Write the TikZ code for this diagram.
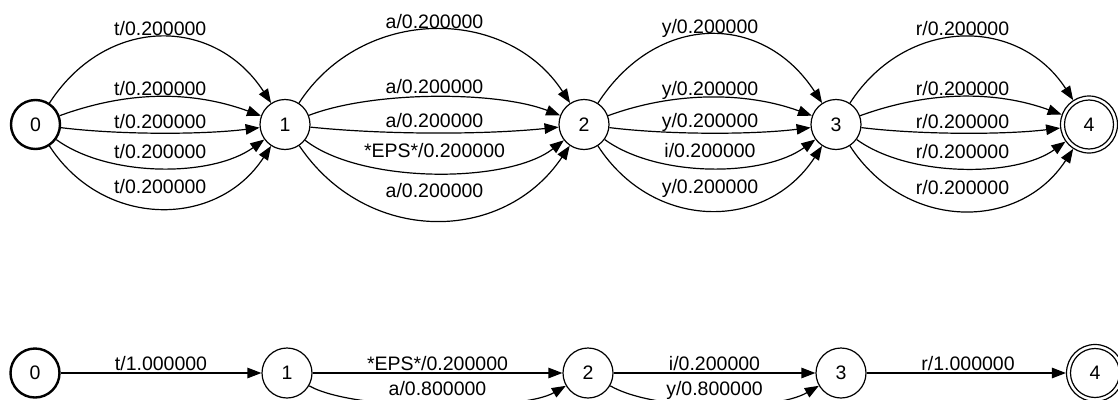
\documentclass[tikz,border=0pt]{standalone}
\usepackage{fontspec}
\setmainfont{Liberation Sans}
\usetikzlibrary{arrows.meta}
\newcommand\lbfont{\fontsize{19.5}{22}\selectfont}
\tikzset{
  st/.style={circle, draw, line width=1.2pt, minimum size=50pt, inner sep=0pt, font=\lbfont},
  init/.style={st, line width=2.4pt, minimum size=49pt},
  fin/.style={st, minimum size=57pt},
  edge/.style={line width=1.2pt, -{Triangle[length=14pt,width=10.5pt]}},
  lbl/.style={anchor=base, inner sep=0pt, font=\lbfont}
}
\begin{document}
\begin{tikzpicture}[x=1pt,y=1pt]
\useasboundingbox (0,0) rectangle (1118,-399);
\clip (0,0) rectangle (1118,-399);
% ---------- top automaton ----------
\node[init] (n0) at (35.5,-124.5) {0};
\node[st]   (n1) at (285,-124.5) {1};
\node[st]   (n2) at (584,-124.5) {2};
\node[st]   (n3) at (836,-124.5) {3};
\node[fin]  (n4) at (1089,-124.5) {4};
\draw[line width=1.2pt] (n4.center) circle[radius=24.5pt];
% 0 -> 1
\draw[edge] (n0) .. controls +(70.8,109) and +(-70.8,109) .. (n1);
\draw[edge] (n0) .. controls +(93,33.9) and +(-93,33.9) .. (n1);
\draw[edge] (n0) .. controls +(83,-10.3) and +(-83,-10.3) .. (n1);
\draw[edge] (n0) .. controls +(73,-53) and +(-73,-53) .. (n1);
\draw[edge] (n0) .. controls +(67.8,-104.4) and +(-67.8,-104.4) .. (n1);
\node[lbl] (a1) at (160.25,-35) {t/0.200000};
\node[lbl] (a2) at (160.25,-95) {t/0.200000};
\node[lbl] (a3) at (160.25,-128.3) {t/0.200000};
\node[lbl] (a4) at (160.25,-158.3) {t/0.200000};
\node[lbl] (a5) at (160.25,-193.3) {t/0.200000};
% 1 -> 2
\draw[edge] (n1) .. controls +(77.3,119) and +(-77.3,119) .. (n2);
\draw[edge] (n1) .. controls +(87.8,33.7) and +(-87.8,33.7) .. (n2);
\draw[edge] (n1) .. controls +(100,-10.3) and +(-100,-10.3) .. (n2);
\draw[edge] (n1) .. controls +(76,-59.5) and +(-76,-59.5) .. (n2);
\draw[edge] (n1) .. controls +(81,-120.4) and +(-81,-120.4) .. (n2);
\node[lbl] (b1) at (434.5,-28.3) {a/0.200000};
\node[lbl] (b2) at (434.5,-93.3) {a/0.200000};
\node[lbl] (b3) at (434.5,-127.7) {a/0.200000};
\node[lbl] (b4) at (434.5,-157.3) {*EPS*/0.200000};
\node[lbl] (b5) at (434.5,-197.3) {a/0.200000};
% 2 -> 3
\draw[edge] (n2) .. controls +(73,112.4) and +(-73,112.4) .. (n3);
\draw[edge] (n2) .. controls +(90,33) and +(-90,33) .. (n3);
\draw[edge] (n2) .. controls +(84,-10.3) and +(-84,-10.3) .. (n3);
\draw[edge] (n2) .. controls +(73,-53) and +(-73,-53) .. (n3);
\draw[edge] (n2) .. controls +(69.5,-107) and +(-69.5,-107) .. (n3);
\node[lbl] (c1) at (710,-33.3) {y/0.200000};
\node[lbl] (c2) at (710,-95) {y/0.200000};
\node[lbl] (c3) at (710,-127.7) {y/0.200000};
\node[lbl] (c4) at (710,-157.3) {i/0.200000};
\node[lbl] (c5) at (710,-193.3) {y/0.200000};
% 3 -> 4
\draw[edge] (n3) .. controls +(70.4,108.4) and +(-70.4,108.4) .. (n4);
\draw[edge] (n3) .. controls +(93,33.9) and +(-93,33.9) .. (n4);
\draw[edge] (n3) .. controls +(84,-10.3) and +(-84,-10.3) .. (n4);
\draw[edge] (n3) .. controls +(73,-53) and +(-73,-53) .. (n4);
\draw[edge] (n3) .. controls +(69.5,-107) and +(-69.5,-107) .. (n4);
\node[lbl] (d1) at (962.5,-35) {r/0.200000};
\node[lbl] (d2) at (962.5,-95.5) {r/0.200000};
\node[lbl] (d3) at (962.5,-128.5) {r/0.200000};
\node[lbl] (d4) at (962.5,-158.5) {r/0.200000};
\node[lbl] (d5) at (962.5,-194) {r/0.200000};
% ---------- bottom automaton ----------
\node[init] (m0) at (35,-373) {0};
\node[st]   (m1) at (287,-373) {1};
\node[st]   (m2) at (588,-373) {2};
\node[st]   (m3) at (841,-373) {3};
\node[fin]  (m4) at (1095,-373) {4};
\draw[line width=1.2pt] (m4.center) circle[radius=24.5pt];
\draw[edge] (m0) -- (m1);
\draw[edge] (m1) -- (m2);
\draw[edge] (m1) .. controls +(66.7,-38.5) and +(-66.7,-38.5) .. (m2);
\draw[edge] (m2) -- (m3);
\draw[edge] (m2) .. controls +(66.7,-38.5) and +(-66.7,-38.5) .. (m3);
\draw[edge] (m3) -- (m4);
\node[lbl] (e1) at (161,-370.5) {t/1.000000};
\node[lbl] (e2) at (437.5,-370.5) {*EPS*/0.200000};
\node[lbl] (e3) at (437.5,-395) {a/0.800000};
\node[lbl] (e4) at (714.5,-370.5) {i/0.200000};
\node[lbl] (e5) at (714.5,-395) {y/0.800000};
\node[lbl] (e6) at (968,-370.5) {r/1.000000};
\end{tikzpicture}
\end{document}
